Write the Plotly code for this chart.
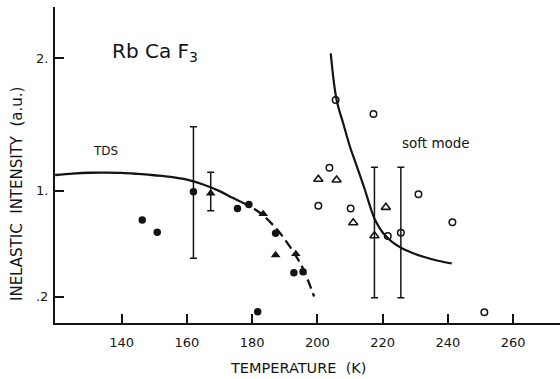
import plotly.graph_objects as go

# ---- data ----
# filled circles
fc_T = [146.3, 150.9, 162.0, 175.5, 179.0, 187.2, 192.8, 195.6, 181.7]
fc_I = [0.777, 0.684, 0.991, 0.865, 0.895, 0.677, 0.380, 0.387, 0.085]
# filled triangles
ft_T = [167.3, 183.4, 187.2, 193.4]
ft_I = [0.979, 0.823, 0.513, 0.521]
# open circles
oc_T = [205.6, 217.2, 203.7, 200.3, 210.2, 221.6, 225.6, 231.0, 241.4, 251.2]
oc_I = [1.683, 1.577, 1.172, 0.885, 0.865, 0.657, 0.682, 0.971, 0.760, 0.081]
# open triangles
ot_T = [200.3, 205.9, 211.0, 221.0, 217.5]
ot_I = [1.085, 1.079, 0.757, 0.873, 0.659]
# error bars
eb_T = [162.0, 167.3, 217.5, 225.6]
eb_I = [0.991, 0.979, 0.659, 0.682]
eb_up = [0.491, 0.158, 0.516, 0.493]
eb_dn = [0.503, 0.131, 0.468, 0.491]
# TDS curve (solid part, then dashed part)
tds_T = [119.6, 125, 130, 135, 140, 145, 150, 155, 160, 165, 170, 174, 176.5]
tds_I = [1.117, 1.128, 1.134, 1.135, 1.133, 1.125, 1.115, 1.103, 1.082, 1.045, 0.995, 0.945, 0.915]
tdsd_T = [176.5, 180, 183, 186, 189, 192, 195, 197, 199]
tdsd_I = [0.915, 0.87, 0.82, 0.75, 0.665, 0.56, 0.44, 0.33, 0.2]
# soft mode curve
sm_T = [204.1, 205.9, 208, 210, 212, 214.6, 216.3, 217.7, 220.2, 223, 225.9, 229, 232.5, 237, 241.2]
sm_I = [2.035, 1.683, 1.5, 1.33, 1.19, 1.004, 0.87, 0.777, 0.677, 0.61, 0.564, 0.53, 0.5, 0.47, 0.45]

x_ticks = [140, 160, 180, 200, 220, 240, 260]
y_ticks = [0.2, 1.0, 2.0]
y_ticktext = [".2", "1.", "2."]

INK = "#141414"
FONT = "DejaVu Sans"

fig = go.Figure()
fig.add_trace(go.Scatter(x=tds_T, y=tds_I, mode="lines", line_shape="spline",
                         line=dict(color=INK, width=2.3), hoverinfo="skip"))
fig.add_trace(go.Scatter(x=tdsd_T, y=tdsd_I, mode="lines", line_shape="spline",
                         line=dict(color=INK, width=2.3, dash="10px,5px"), hoverinfo="skip"))
fig.add_trace(go.Scatter(x=sm_T, y=sm_I, mode="lines", line_shape="spline",
                         line=dict(color=INK, width=2.2), hoverinfo="skip"))
fig.add_trace(go.Scatter(x=eb_T, y=eb_I, mode="markers",
                         marker=dict(size=1, color="rgba(0,0,0,0)"),
                         error_y=dict(type="data", symmetric=False, array=eb_up,
                                      arrayminus=eb_dn, color=INK, thickness=1.5, width=3.5)))
fig.add_trace(go.Scatter(x=fc_T, y=fc_I, mode="markers",
                         marker=dict(symbol="circle", size=7.5, color=INK)))
fig.add_trace(go.Scatter(x=ft_T, y=ft_I, mode="markers",
                         marker=dict(symbol="triangle-up", size=8.5, color=INK)))
fig.add_trace(go.Scatter(x=oc_T, y=oc_I, mode="markers",
                         marker=dict(symbol="circle-open", size=6.5, color=INK,
                                     line=dict(width=1.5))))
fig.add_trace(go.Scatter(x=ot_T, y=ot_I, mode="markers",
                         marker=dict(symbol="triangle-up-open", size=8, color=INK,
                                     line=dict(width=1.6))))

fig.update_layout(
    width=560, height=379,
    margin=dict(l=55, r=0, t=7, b=56),
    paper_bgcolor="white", plot_bgcolor="white",
    showlegend=False,
    font=dict(family=FONT, color=INK, size=13),
    xaxis=dict(range=[119.55, 274.4], tickvals=x_ticks, ticks="inside", ticklen=9,
               tickwidth=1.6, tickcolor=INK, showline=True, linewidth=2.2, linecolor=INK,
               showgrid=False, zeroline=False, tickfont=dict(size=13, family=FONT),
               ticklabelstandoff=6),
    yaxis=dict(range=[0, 2.385], tickvals=y_ticks, ticktext=y_ticktext, ticks="inside",
               ticklen=9, tickwidth=1.6, tickcolor=INK, showline=True, linewidth=2.2,
               linecolor=INK, showgrid=False, zeroline=False,
               tickfont=dict(size=13, family=FONT), ticklabelstandoff=2),
    annotations=[
        dict(text="TEMPERATURE  (K)", x=(298 - 55) / 505, y=-(368 - 323) / 316,
             xref="paper", yref="paper", showarrow=False,
             font=dict(size=14.5, family=FONT), xanchor="center", yanchor="middle"),
        dict(text="INELASTIC  INTENSITY  (a.u.)", x=(17 - 55) / 505, y=(323 - 194) / 316,
             xref="paper", yref="paper", showarrow=False, textangle=-90,
             font=dict(size=15, family=FONT), xanchor="center", yanchor="middle"),
        dict(text="Rb Ca F<sub>3</sub>", x=136.4, y=2.045, xref="x", yref="y",
             showarrow=False, xanchor="left", yanchor="middle",
             font=dict(size=20, family=FONT)),
        dict(text="TDS", x=134.9, y=1.30, xref="x", yref="y", showarrow=False,
             font=dict(size=12, family=FONT)),
        dict(text="soft mode", x=236.5, y=1.361, xref="x", yref="y", showarrow=False,
             font=dict(size=13.5, family=FONT)),
    ],
)

fig.write_html("out.html")
